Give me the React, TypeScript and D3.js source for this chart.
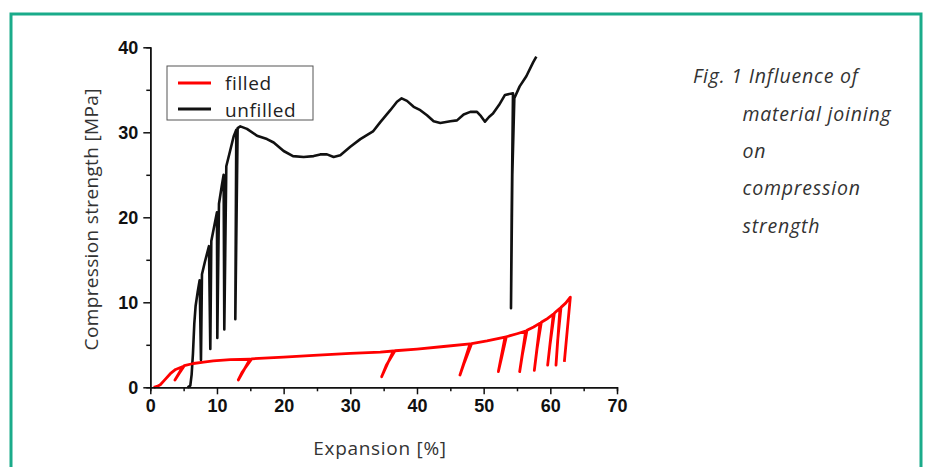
import * as d3 from 'd3';
import React, { useEffect, useRef } from 'react';

// red curve (filled), unload/reload loops included in order
const filledX = [0.5, 1.0, 1.5, 2.2, 3.0, 3.8, 4.9, 3.7, 4.3, 5.1, 6.45, 8, 9.45, 12, 14.95, 13.2, 13.8, 15.2,
  20, 24.5, 30, 34.5, 36.45, 34.7, 35.4, 36.7, 40, 44, 47.95, 46.45, 47.1, 48.2, 50.5, 53.2, 52.2, 52.7, 53.4,
  55, 56.3, 55.4, 55.8, 56.5, 57.5, 58.45, 57.6, 58.0, 58.65, 59.6, 60.45, 59.6, 59.95, 60.6, 61.0, 61.45,
  60.85, 61.1, 61.6, 62.3, 63.0, 62.1];
const filledY = [0, 0.1, 0.3, 0.9, 1.6, 2.1, 2.45, 0.85, 1.6, 2.55, 2.8, 2.95, 3.1, 3.25, 3.3, 0.86, 1.8, 3.35,
  3.55, 3.75, 4.0, 4.15, 4.27, 1.25, 2.6, 4.3, 4.5, 4.8, 5.1, 1.45, 2.9, 5.15, 5.45, 5.9, 1.84, 3.5, 5.95,
  6.3, 6.6, 1.84, 3.8, 6.7, 7.1, 7.55, 2.0, 4.5, 7.65, 8.1, 8.6, 2.6, 5.0, 8.7, 9.0, 9.3,
  2.6, 5.5, 9.4, 9.9, 10.6, 3.0];

// black curve (unfilled)
const unfilledX = [5.6, 6.0, 6.2, 6.4, 6.6, 6.8, 7.1, 7.4, 7.6, 7.75, 8.2, 8.8, 9.0, 9.15, 9.6, 10.0, 10.05, 10.3,
  10.7, 11.0, 11.1, 11.4, 11.9, 12.5, 12.9, 12.75, 13.1, 13.5, 14.5, 16, 17.5, 18.5, 20, 21.4, 23, 24.5, 25.5,
  26.5, 27.5, 28.5, 30, 31.5, 33.4, 34.5, 36, 37.0, 37.7, 38.5, 39.5, 40.5, 41.5, 42.5, 43.5, 45, 46, 47, 48,
  49, 49.6, 50.2, 50.8, 51.4, 52.3, 53.2, 54.4, 54.2, 54.1, 54.3, 54.6, 55.4, 56.4, 57.4, 57.9];
const unfilledY = [0, 0.2, 1.5, 4, 7.5, 9.6, 11.2, 12.6, 3.2, 13.3, 14.8, 16.6, 4.5, 17.2, 19.0, 20.6, 5.8, 21.6,
  23.6, 25.0, 6.8, 26.0, 27.6, 29.5, 30.3, 8.0, 30.5, 30.7, 30.4, 29.6, 29.2, 28.8, 27.8, 27.2, 27.1, 27.2, 27.4,
  27.4, 27.1, 27.3, 28.3, 29.2, 30.1, 31.2, 32.6, 33.6, 34.0, 33.7, 33.0, 32.6, 32.0, 31.3, 31.1, 31.3, 31.4, 32.1, 32.4,
  32.4, 31.9, 31.25, 31.8, 32.2, 33.2, 34.4, 34.6, 20, 9.3, 25, 34.0, 35.4, 36.6, 38.2, 38.9];

const xTicks = [0, 10, 20, 30, 40, 50, 60, 70];
const yTicks = [0, 10, 20, 30, 40];
const captionLines = ['Fig. 1 Influence of', 'material joining', 'on', 'compression', 'strength'];

const tickFont = '"Liberation Sans Narrow", "Liberation Sans", Arial, sans-serif';
const textFont = '"Open Sans", "Noto Sans", sans-serif';

const x = d3.scaleLinear().domain([0, 70]).range([150.3, 617]);
const y = d3.scaleLinear().domain([0, 40]).range([387.3, 47.3]);

const App = () => {
  const xAxisRef = useRef(null);
  const yAxisRef = useRef(null);

  useEffect(() => {
    const xa = d3.select(xAxisRef.current);
    xa.selectAll('*').remove();
    xa.append('g').call(
      d3.axisBottom(x).tickValues(d3.range(5, 70, 10)).tickSize(4).tickFormat(() => '')
    );
    xa.append('g').call(d3.axisBottom(x).tickValues(xTicks).tickSize(7).tickPadding(5).tickSizeOuter(0));
    xa.selectAll('path, line').attr('stroke', '#111').attr('stroke-width', 1.5);
    xa.selectAll('text')
      .attr('font-family', tickFont)
      .attr('font-weight', 'bold')
      .attr('font-size', 18)
      .attr('fill', '#111');

    const ya = d3.select(yAxisRef.current);
    ya.selectAll('*').remove();
    ya.append('g').call(
      d3.axisLeft(y).tickValues([5, 15, 25, 35]).tickSize(4).tickFormat(() => '')
    );
    ya.append('g').call(d3.axisLeft(y).tickValues(yTicks).tickSize(7).tickPadding(5).tickSizeOuter(0));
    ya.selectAll('path, line').attr('stroke', '#111').attr('stroke-width', 1.5);
    ya.selectAll('text')
      .attr('font-family', tickFont)
      .attr('font-weight', 'bold')
      .attr('font-size', 18)
      .attr('fill', '#111');
  }, []);

  const line = d3
    .line<number>()
    .x((d) => d[0])
    .y((d) => d[1])
    .curve(d3.curveLinear);

  const filledPts = filledX.map((v, i) => [x(v), y(filledY[i])]);
  const unfilledPts = unfilledX.map((v, i) => [x(v), y(unfilledY[i])]);

  return (
    <svg
      width={929}
      height={467}
      style={{ position: 'absolute', left: 0, top: 0, background: '#fff' }}
    >
      <rect x={11} y={14} width={910} height={470} fill="#fff" stroke="#1aab8a" strokeWidth={3} />

      <path d={line(unfilledPts)} fill="none" stroke="#111" strokeWidth={2.6} strokeLinejoin="round" />
      <path d={line(filledPts)} fill="none" stroke="#ff0000" strokeWidth={2.8} strokeLinejoin="round" />

      <g ref={xAxisRef} transform={`translate(0,${y(0)})`} />
      <g ref={yAxisRef} transform={`translate(${x(0)},0)`} />

      <text
        transform={`translate(98,${(y(0) + y(40)) / 2 + 2}) rotate(-90)`}
        textAnchor="middle"
        fontFamily={textFont}
        fontSize={19}
        letterSpacing={0.35}
        fill="#333"
      >
        Compression strength [MPa]
      </text>
      <text x={380} y={455} textAnchor="middle" fontFamily={textFont} fontSize={19} letterSpacing={0.7} fill="#333">
        Expansion [%]
      </text>

      <rect x={167} y={66} width={146} height={54} fill="#fff" stroke="#555" strokeWidth={1} />
      <line x1={178} x2={211} y1={83} y2={83} stroke="#ff0000" strokeWidth={3} />
      <line x1={178} x2={211} y1={109} y2={109} stroke="#111" strokeWidth={3} />
      <text x={225} y={90} fontFamily={textFont} fontSize={19} letterSpacing={0.6} fill="#222">filled</text>
      <text x={225} y={117} fontFamily={textFont} fontSize={19} letterSpacing={0.6} fill="#222">unfilled</text>

      {captionLines.map((t, i) => (
        <text
          key={t}
          x={i === 0 ? 693 : 742.5}
          y={83.3 + i * 37.35}
          fontFamily={textFont}
          fontStyle="italic"
          fontSize={19.5}
          letterSpacing={0.8}
          fill="#333"
        >
          {t}
        </text>
      ))}
    </svg>
  );
};

export default App;
